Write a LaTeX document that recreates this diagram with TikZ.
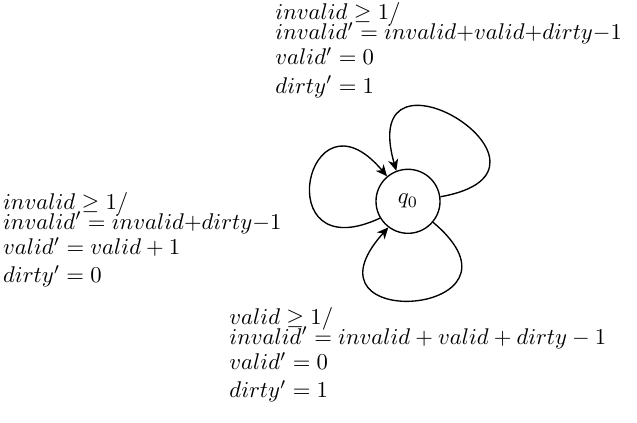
\documentclass[tikz,border=0pt]{standalone}
\usetikzlibrary{arrows.meta}
\begin{document}
\begin{tikzpicture}[x=0.4405pt,y=0.4405pt,
  lbl/.style={anchor=north west, inner sep=0pt, align=left},
  st/.style={circle, draw, line width=0.6pt, minimum size=28.2pt, inner sep=0pt},
  loopedge/.style={line width=0.6pt, -{Stealth[length=5pt,width=4.5pt,inset=1.5pt]}}]
\useasboundingbox (0,0) rectangle (637,422);
\node[st] (q) at (408,220.7) {$q_0$};
\node[lbl] (toplbl) at (275,419.7) {$invalid \geq 1/$\\[-3.3pt]
  $invalid' = invalid{+}valid{+}dirty{-}1$\\[-0.8pt]
  $valid' = 0$\\[0.4pt]
  $dirty' = 1$};
\node[lbl] (leftlbl) at (2.7,230.2) {$invalid \geq 1/$\\[-3.3pt]
  $invalid' = invalid{+}dirty{-}1$\\[-0.8pt]
  $valid' = valid + 1$\\[0.4pt]
  $dirty' = 0$};
\node[lbl] (botlbl) at (229,115.2) {$valid \geq 1/$\\[-3.3pt]
  $invalid' = invalid + valid + dirty - 1$\\[-0.8pt]
  $valid' = 0$\\[0.4pt]
  $dirty' = 1$};
\draw[loopedge] (q.8) .. controls +(10:150) and +(106:150) .. (q.111);
\draw[loopedge] (q.211) .. controls +(205:125) and +(130:125) .. (q.130);
\draw[loopedge] (q.320) .. controls +(320:145) and +(228:145) .. (q.233);
\end{tikzpicture}
\end{document}
